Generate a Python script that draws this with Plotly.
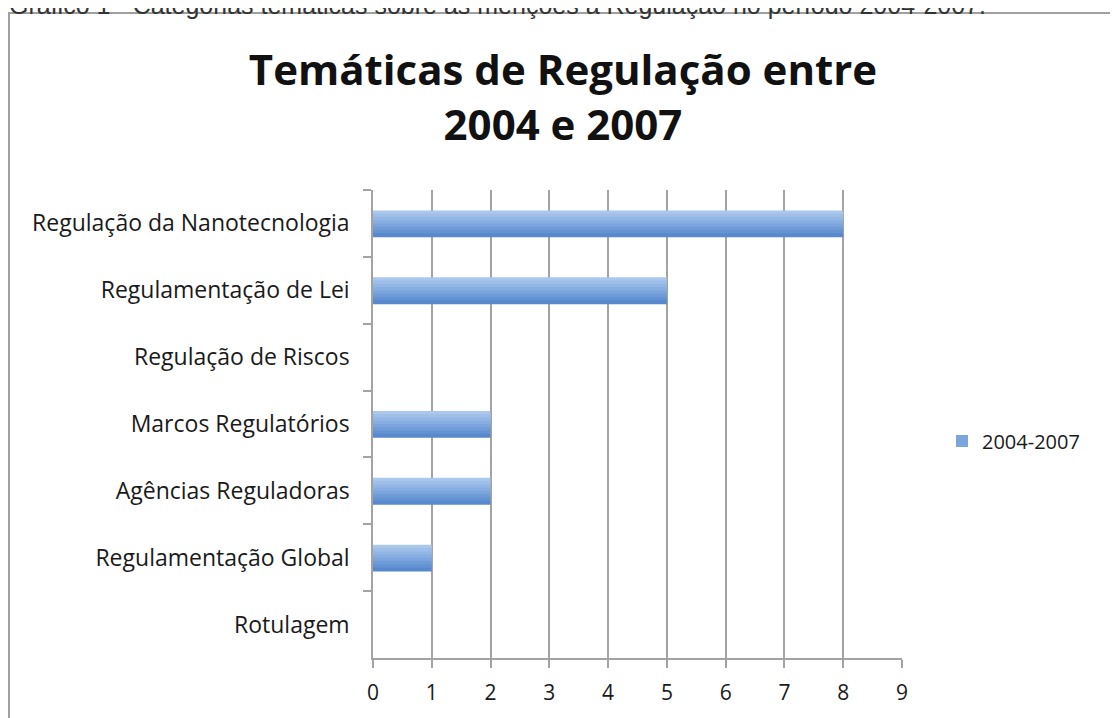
import plotly.graph_objects as go

# figure is placed with the page's 8px body margin, so it spans 1110 x 710
W, H = 1110, 710
M_L, M_R, M_T, M_B = 365, 216, 182, 60

categories = [
    "Regulação da Nanotecnologia",
    "Regulamentação de Lei",
    "Regulação de Riscos",
    "Marcos Regulatórios",
    "Agências Reguladoras",
    "Regulamentação Global",
    "Rotulagem",
]
values = [8, 5, 0, 2, 2, 1, 0]
series_name = "2004-2007"
x_ticks = list(range(0, 10))

# vertical gradient of the bars, top (light) to bottom (dark)
BAR_SHADES = ["#aac7ec", "#9fbfe8", "#93b7e4", "#87aee0",
              "#7ba5dc", "#6f9cd7", "#6393d2", "#5889cc"]
BAR_W = 0.39

plot_w = W - M_L - M_R
plot_h = H - M_T - M_B


def px_x(p):
    return (p - M_L) / plot_w


def px_y(p):
    return (H - M_B - p) / plot_h


fig = go.Figure()
n = len(BAR_SHADES)
for i, shade in enumerate(BAR_SHADES):
    fig.add_trace(go.Bar(
        y=categories, x=values, orientation="h",
        name=series_name, legendgroup="s", showlegend=(i == 4),
        marker=dict(color=shade, line=dict(width=0)),
        width=BAR_W / n + 0.012, offset=-BAR_W / 2 + i * BAR_W / n,
        hoverinfo="x+y",
    ))

fig.update_layout(
    width=W, height=H,
    margin=dict(l=M_L, r=M_R, t=M_T, b=M_B, autoexpand=False),
    paper_bgcolor="white", plot_bgcolor="white",
    font=dict(family="Open Sans, sans-serif", color="#1a1a1a", size=20),
    title=dict(
        text="<b>Temáticas de Regulação entre<br>2004 e 2007</b>",
        font=dict(size=42, color="#111"),
        x=0.5, xref="container", xanchor="center",
        y=1 - 77 / H, yanchor="middle",
    ),
    barmode="overlay",
    showlegend=True,
    legend=dict(x=px_x(934), y=px_y(433), xanchor="left", yanchor="middle",
                font=dict(size=20), bgcolor="rgba(0,0,0,0)"),
)

fig.update_xaxes(
    range=[0, 9], tickvals=x_ticks, showgrid=True, gridcolor="#a3a3a3",
    gridwidth=1.5, showline=True, linecolor="#a3a3a3", linewidth=1.5,
    ticks="outside", ticklen=8, tickcolor="#a3a3a3", tickwidth=1.5,
    tickfont=dict(size=21, color="#1a1a1a"), ticklabelstandoff=7,
    zeroline=False, fixedrange=True,
)
fig.update_yaxes(
    autorange="reversed", showline=True, linecolor="#a3a3a3", linewidth=1.5,
    ticks="outside", tickson="boundaries", ticklen=8, tickcolor="#a3a3a3",
    tickwidth=1.5, showgrid=False, tickfont=dict(size=23, color="#1a1a1a"),
    ticklabelstandoff=17, fixedrange=True,
)

# chart frame (runs off the right and bottom edges)
fig.add_shape(type="rect", xref="paper", yref="paper",
              x0=px_x(1), x1=px_x(W + 20), y0=px_y(H + 20), y1=px_y(5),
              line=dict(color="#a0a0a0", width=2), fillcolor="rgba(0,0,0,0)",
              layer="below")

# caption above the chart, cut at the top of the page as in the source
fig.add_annotation(
    text="Gráfico 1 - Categorias temáticas sobre as menções à Regulação no período 2004-2007.",
    xref="paper", yref="paper", x=px_x(-1), y=px_y(-3),
    xanchor="left", yanchor="middle", showarrow=False,
    font=dict(family="Liberation Sans, Arial, sans-serif", size=25, color="#333"),
)

fig.write_html("out.html")
